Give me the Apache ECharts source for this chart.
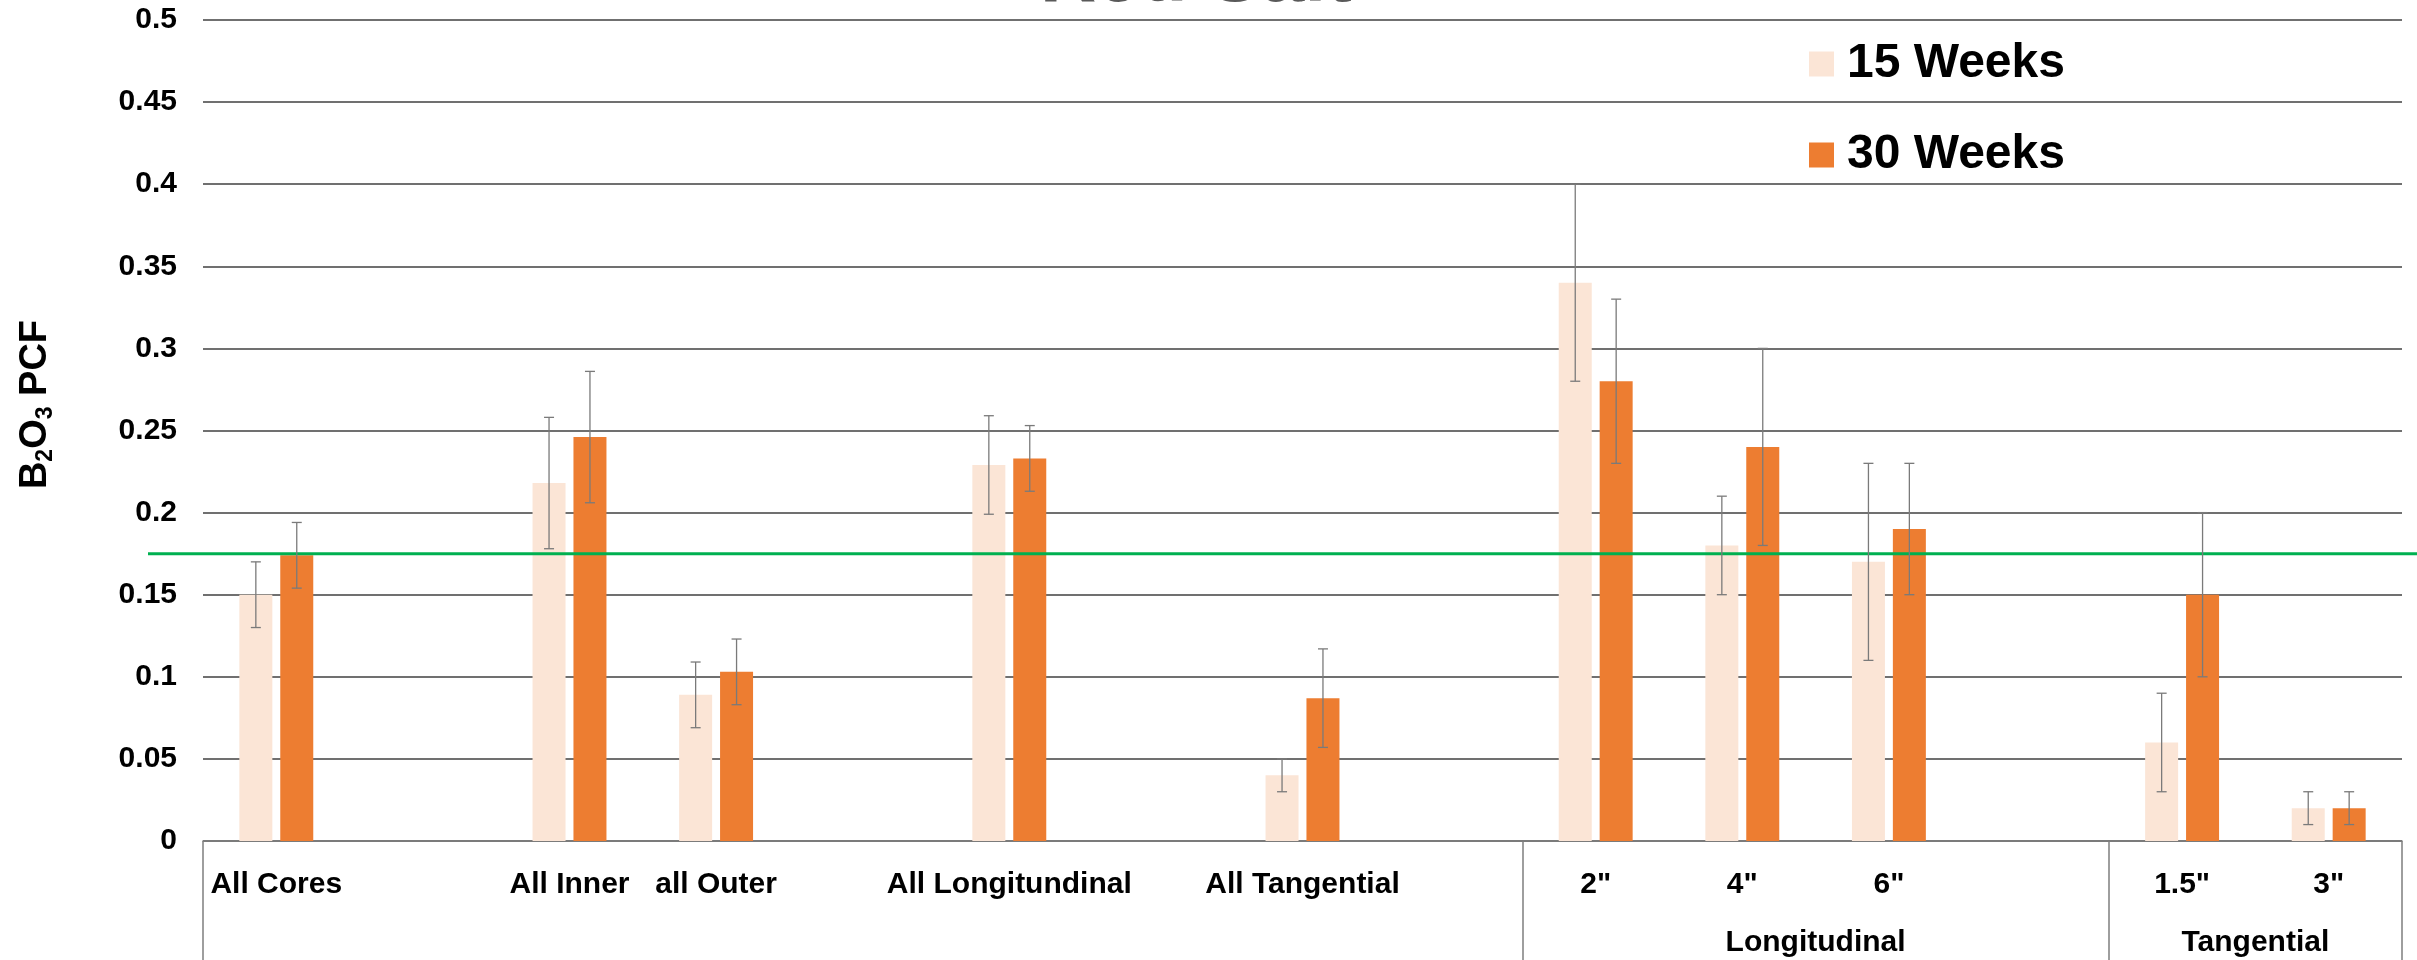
<!DOCTYPE html>
<html>
<head>
<meta charset="utf-8">
<script src="https://cdn.jsdelivr.net/npm/echarts@6/dist/echarts.min.js"></script>
<style>
  html, body { margin: 0; padding: 0; background: #ffffff; }
  #chart { width: 2417px; height: 960px; }
</style>
</head>
<body>
<div id="chart"></div>
<script>
// Categories along the x axis (empty strings are spacer slots between groups)
const categories = ['All Cores', '', 'All Inner', 'all Outer', '', 'All Longitundinal', '', 'All Tangential', '',
                    '2"', '4"', '6"', '', '1.5"', '3"'];
// Second-level group names, keyed by their centre position (in category units)
const groupNames = { 11: 'Longitudinal', 14: 'Tangential' };
// Category index where each outlined group starts
const groupStarts = [0, 9, 13];

// B2O3 PCF means and error half-widths
const week15    = [0.150, null, 0.218, 0.089, null, 0.229, null, 0.040, null, 0.340, 0.180, 0.170, null, 0.060, 0.020];
const week15Err = [0.020, null, 0.040, 0.020, null, 0.030, null, 0.010, null, 0.060, 0.030, 0.060, null, 0.030, 0.010];
const week30    = [0.174, null, 0.246, 0.103, null, 0.233, null, 0.087, null, 0.280, 0.240, 0.190, null, 0.150, 0.020];
const week30Err = [0.020, null, 0.040, 0.020, null, 0.020, null, 0.030, null, 0.050, 0.060, 0.040, null, 0.050, 0.010];

// Reference level drawn as a horizontal line
const targetLevel = 0.175;

// Y axis range
const yMin = 0, yMax = 0.5, yStep = 0.05;

const FONT = '"Liberation Sans", Arial, Helvetica, sans-serif';
const LIGHT = '#FBE5D6';
const DARK = '#ED7D31';
const BAR_W = 33;
const BAR_GAP = 0.24;

function errorItems(values, errs) {
  const out = [];
  values.forEach(function (v, i) {
    if (v !== null) out.push([i, v, errs[i]]);
  });
  return out;
}

function errorBar(side) {
  return function (params, api) {
    const idx = api.value(0);
    const val = api.value(1);
    const err = api.value(2);
    const dx = side * (BAR_W + BAR_W * BAR_GAP) / 2;
    const hi = api.coord([idx, val + err]);
    const lo = api.coord([idx, val - err]);
    const x = hi[0] + dx;
    const cap = 5;
    const style = { stroke: '#7a7a7a', lineWidth: 1.3 };
    return {
      type: 'group',
      children: [
        { type: 'line', shape: { x1: x, y1: hi[1], x2: x, y2: lo[1] }, style: style },
        { type: 'line', shape: { x1: x - cap, y1: hi[1], x2: x + cap, y2: hi[1] }, style: style },
        { type: 'line', shape: { x1: x - cap, y1: lo[1], x2: x + cap, y2: lo[1] }, style: style }
      ]
    };
  };
}

const chart = echarts.init(document.getElementById('chart'), null, { renderer: 'canvas' });

chart.setOption({
  animation: false,
  backgroundColor: '#ffffff',
  title: {
    text: 'Red Salt',
    left: 1035,
    top: -65,
    textStyle: { fontFamily: FONT, fontSize: 78, fontWeight: 'bold', color: '#595959' }
  },
  legend: {
    data: ['15 Weeks', '30 Weeks'],
    orient: 'vertical',
    left: 1804,
    top: 35,
    icon: 'rect',
    itemWidth: 25,
    itemHeight: 25,
    itemGap: 43,
    textStyle: { fontFamily: FONT, fontSize: 48, fontWeight: 'bold', color: '#000000', padding: [0, 0, 0, 8] }
  },
  grid: [
    { left: 203, right: 15, top: 20, bottom: 119, containLabel: false },
    { left: 148, right: 0, top: 20, bottom: 119, containLabel: false }
  ],
  xAxis: [
    {
      type: 'category',
      gridIndex: 0,
      data: categories,
      boundaryGap: true,
      axisLine: { show: true, lineStyle: { color: '#7f7f7f', width: 1.5 } },
      axisTick: {
        show: true,
        interval: function (i) { return groupStarts.indexOf(i) >= 0; },
        length: 125,
        lineStyle: { color: '#7f7f7f', width: 1.5 }
      },
      axisLabel: {
        interval: 0,
        margin: 29,
        fontFamily: FONT, fontSize: 30, fontWeight: 'bold', color: '#000000'
      },
      splitLine: { show: false }
    },
    {
      type: 'value',
      gridIndex: 0,
      position: 'bottom',
      min: 0,
      max: categories.length,
      interval: 1,
      axisLine: { show: false },
      axisTick: { show: false },
      splitLine: { show: false },
      axisLabel: {
        margin: 87,
        formatter: function (v) { return groupNames[v] || ''; },
        fontFamily: FONT, fontSize: 30, fontWeight: 'bold', color: '#000000'
      }
    },
    {
      type: 'value',
      gridIndex: 1,
      min: 0,
      max: 1,
      show: false
    }
  ],
  yAxis: [
    {
      type: 'value',
      gridIndex: 0,
      min: yMin,
      max: yMax,
      interval: yStep,
      axisLine: { show: false },
      axisTick: { show: false },
      splitLine: { show: true, lineStyle: { color: '#404040', width: 1.5 } },
      axisLabel: {
        margin: 26,
        fontFamily: FONT, fontSize: 30, fontWeight: 'bold', color: '#000000'
      },
      name: '{b|B}{s|2}{b|O}{s|3}{b| PCF}',
      nameLocation: 'middle',
      nameRotate: 90,
      nameGap: 146,
      nameTextStyle: {
        fontFamily: FONT, fontSize: 38, fontWeight: 'bold', color: '#000000',
        padding: [0, 0, 0, 52],
        rich: {
          b: { fontFamily: FONT, fontSize: 38, fontWeight: 'bold', color: '#000000', lineHeight: 42 },
          s: { fontFamily: FONT, fontSize: 23, fontWeight: 'bold', color: '#000000', lineHeight: 23, verticalAlign: 'bottom' }
        }
      }
    },
    {
      type: 'value',
      gridIndex: 1,
      min: yMin,
      max: yMax,
      show: false
    }
  ],
  series: [
    {
      name: '15 Weeks',
      type: 'bar',
      xAxisIndex: 0,
      yAxisIndex: 0,
      data: week15,
      barWidth: BAR_W,
      barGap: (BAR_GAP * 100) + '%',
      itemStyle: { color: LIGHT },
      z: 2
    },
    {
      name: '30 Weeks',
      type: 'bar',
      xAxisIndex: 0,
      yAxisIndex: 0,
      data: week30,
      barWidth: BAR_W,
      barGap: (BAR_GAP * 100) + '%',
      itemStyle: { color: DARK },
      z: 2
    },
    {
      name: '15 Weeks error',
      type: 'custom',
      xAxisIndex: 0,
      yAxisIndex: 0,
      data: errorItems(week15, week15Err),
      renderItem: errorBar(-1),
      encode: { x: 0, y: 1 },
      z: 5
    },
    {
      name: '30 Weeks error',
      type: 'custom',
      xAxisIndex: 0,
      yAxisIndex: 0,
      data: errorItems(week30, week30Err),
      renderItem: errorBar(1),
      encode: { x: 0, y: 1 },
      z: 5
    },
    {
      name: 'Target',
      type: 'line',
      xAxisIndex: 2,
      yAxisIndex: 1,
      data: [[0, targetLevel], [1, targetLevel]],
      symbol: 'none',
      lineStyle: { color: '#00B050', width: 3 },
      z: 4,
      silent: true
    }
  ]
});
</script>
</body>
</html>
